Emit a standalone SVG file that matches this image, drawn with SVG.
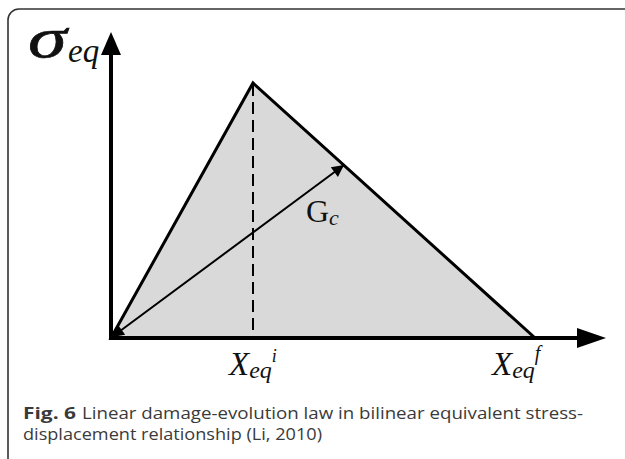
<svg xmlns="http://www.w3.org/2000/svg" width="625" height="459" viewBox="0 0 625 459">
<style>
.serif{font-family:"Liberation Serif","Times New Roman",serif;fill:#111}
.it{font-style:italic}
.cap{font-family:"Open Sans","Noto Sans",sans-serif;font-size:16.5px;fill:#3a3a3a}
</style>
<defs>
<marker id="ah" viewBox="0 0 10 10" refX="10" refY="5" markerWidth="20" markerHeight="12" markerUnits="userSpaceOnUse" orient="auto-start-reverse">
<path d="M0,0 L10,5 L0,10 z" fill="#000"/>
</marker>
</defs>
<rect width="625" height="459" fill="#fff"/>
<rect x="8" y="9" width="640" height="470" rx="11" fill="none" stroke="#333" stroke-width="1.6"/>
<g id="area">
<polygon points="111,338 253,83 535,338" fill="#d9d9d9" stroke="#000" stroke-width="3" stroke-linejoin="miter"/>
<line x1="253" y1="84" x2="253" y2="338" stroke="#000" stroke-width="2" stroke-dasharray="12,6"/>
</g>
<g id="axes">
<line x1="111" y1="338" x2="111" y2="52" stroke="#000" stroke-width="4"/>
<polygon points="111,32 101,55 121,55" fill="#000"/>
<line x1="109" y1="338" x2="580" y2="338" stroke="#000" stroke-width="4"/>
<polygon points="606,338 577,328 577,348" fill="#000"/>
</g>
<g id="connectors">
<line x1="112" y1="337" x2="344" y2="165" stroke="#000" stroke-width="2" marker-start="url(#ah)" marker-end="url(#ah)"/>
</g>
<g id="labels">
<text class="serif it" transform="translate(28,57) scale(1.4,1)" x="0" y="0" font-size="56" stroke="#111" stroke-width="0.6">σ</text>
<text class="serif it" x="68" y="62" font-size="33">eq</text>
<text class="serif" x="306" y="222" font-size="32">G<tspan class="it" font-size="22" dy="3">c</tspan></text>
<text class="serif it" x="229" y="375" font-size="33">X<tspan font-size="24" dy="3">eq</tspan><tspan font-size="18" dy="-16">i</tspan></text>
<text class="serif it" x="492" y="375" font-size="33">X<tspan font-size="24" dy="3">eq</tspan><tspan font-size="20" dx="0" dy="-18">f</tspan></text>
</g>
<g id="caption">
<text class="cap" x="23" y="419" font-weight="bold" fill="#111" textLength="53" lengthAdjust="spacingAndGlyphs">Fig. 6</text>
<text class="cap" x="82" y="419" textLength="501" lengthAdjust="spacingAndGlyphs">Linear damage-evolution law in bilinear equivalent stress-</text>
<text class="cap" x="23" y="440" textLength="299" lengthAdjust="spacingAndGlyphs">displacement relationship (Li, 2010)</text>
</g>
</svg>
